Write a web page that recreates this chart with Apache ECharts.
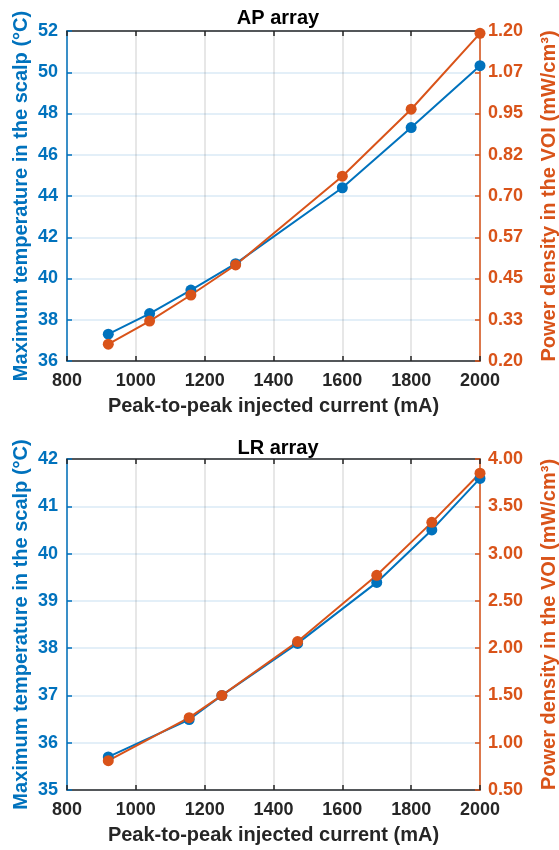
<!DOCTYPE html>
<html>
<head>
<meta charset="utf-8">
<script src="https://cdn.jsdelivr.net/npm/echarts@6/dist/echarts.min.js"></script>
<style>
  html, body { margin: 0; padding: 0; background: #fff; }
  #chart { width: 559px; height: 850px; }
</style>
</head>
<body>
<div id="chart"></div>
<script>
// AP array
var apCurrent = [920, 1040, 1160, 1290, 1600, 1800, 2000]
var apTemp = [37.3, 38.3, 39.44, 40.72, 44.4, 47.32, 50.32]
var apPower = [0.251, 0.321, 0.40, 0.491, 0.76, 0.963, 1.193]
var apPowerTicks = [0.2, 0.325, 0.45, 0.575, 0.7, 0.825, 0.95, 1.075, 1.2]
var apPowerLabels = ['0.20', '0.33', '0.45', '0.57', '0.70', '0.82', '0.95', '1.07', '1.20']

// LR array
var lrCurrent = [920, 1155, 1250, 1470, 1700, 1860, 2000]
var lrTemp = [35.7, 36.49, 37.0, 38.1, 39.39, 40.5, 41.59]
var lrPower = [0.81, 1.265, 1.5, 2.07, 2.77, 3.33, 3.85]

var BLUE = '#0072BD'
var ORANGE = '#D95319'
var DARK = '#262626'
var FONT = 'Liberation Sans'

var chart = echarts.init(document.getElementById('chart'))

function xAxisFor(gridIndex, top) {
  return {
    type: 'value',
    gridIndex: gridIndex,
    position: top ? 'top' : 'bottom',
    min: 800,
    max: 2000,
    interval: 200,
    name: top ? '' : 'Peak-to-peak injected current (mA)',
    nameLocation: 'middle',
    nameGap: 35,
    nameMoveOverlap: false,
    nameTextStyle: { color: DARK, fontFamily: FONT, fontWeight: 'bold', fontSize: 20 },
    axisLine: { show: true, lineStyle: { color: DARK, width: 1.5 } },
    axisTick: { show: true, inside: true, length: 5, lineStyle: { color: DARK, width: 1.5 } },
    axisLabel: {
      show: !top, margin: 11, color: DARK, fontFamily: FONT, fontWeight: 'bold', fontSize: 18,
      formatter: function (v) { return String(v) }
    },
    splitLine: { show: !top, lineStyle: { color: 'rgba(38,38,38,0.15)', width: 1.5 } }
  }
}

function leftAxis(gridIndex, min, max, interval) {
  return {
    type: 'value',
    gridIndex: gridIndex,
    position: 'left',
    min: min,
    max: max,
    interval: interval,
    name: 'Maximum temperature in the scalp (°C)',
    nameLocation: 'middle',
    nameGap: 36,
    nameMoveOverlap: false,
    nameTextStyle: { color: BLUE, fontFamily: FONT, fontWeight: 'bold', fontSize: 20 },
    axisLine: { show: true, lineStyle: { color: BLUE, width: 1.5 } },
    axisTick: { show: true, inside: true, length: 5, lineStyle: { color: BLUE, width: 1.5 } },
    axisLabel: { margin: 9, color: BLUE, fontFamily: FONT, fontWeight: 'bold', fontSize: 18 },
    splitLine: { show: true, lineStyle: { color: 'rgba(0,114,189,0.15)', width: 1.5 } }
  }
}

function rightAxis(gridIndex, min, max, extra) {
  var ax = {
    type: 'value',
    gridIndex: gridIndex,
    position: 'right',
    min: min,
    max: max,
    name: 'Power density in the VOI (mW/cm³)',
    nameLocation: 'middle',
    nameGap: 59,
    nameMoveOverlap: false,
    nameTextStyle: { color: ORANGE, fontFamily: FONT, fontWeight: 'bold', fontSize: 20 },
    axisLine: { show: true, lineStyle: { color: ORANGE, width: 1.5 } },
    axisTick: { show: true, inside: true, length: 5, lineStyle: { color: ORANGE, width: 1.5 } },
    splitLine: { show: false }
  }
  return Object.assign(ax, extra || {})
}

function pairs(xs, ys) {
  return xs.map(function (x, i) { return [x, ys[i]] })
}

function lineSeries(xi, yi, color, data) {
  return {
    type: 'line',
    xAxisIndex: xi,
    yAxisIndex: yi,
    data: data,
    symbol: 'circle',
    symbolSize: 11,
    lineStyle: { color: color, width: 2 },
    itemStyle: { color: color },
    animation: false
  }
}

chart.setOption({
  backgroundColor: '#fff',
  title: [
    { text: 'AP array', left: 273, top: 3, textAlign: 'center',
      textStyle: { color: '#000', fontFamily: FONT, fontWeight: 'bold', fontSize: 20 } },
    { text: 'LR array', left: 273, top: 433, textAlign: 'center',
      textStyle: { color: '#000', fontFamily: FONT, fontWeight: 'bold', fontSize: 20 } }
  ],
  grid: [
    { left: 67, top: 31, width: 413, height: 330, containLabel: false, outerBoundsMode: 'none' },
    { left: 67, top: 459, width: 413, height: 331, containLabel: false, outerBoundsMode: 'none' }
  ],
  xAxis: [xAxisFor(0, false), xAxisFor(0, true), xAxisFor(1, false), xAxisFor(1, true)],
  yAxis: [
    leftAxis(0, 36, 52, 2),
    rightAxis(0, 0.2, 1.2, {
      axisLabel: {
        margin: 8, color: ORANGE, fontFamily: FONT, fontWeight: 'bold', fontSize: 18,
        customValues: apPowerTicks,
        formatter: function (v) {
          var best = 0
          apPowerTicks.forEach(function (t, i) {
            if (Math.abs(t - v) < Math.abs(apPowerTicks[best] - v)) best = i
          })
          return apPowerLabels[best]
        }
      },
      axisTick: { show: true, inside: true, length: 5, customValues: apPowerTicks, lineStyle: { color: ORANGE, width: 1.5 } }
    }),
    leftAxis(1, 35, 42, 1),
    rightAxis(1, 0.5, 4.0, {
      interval: 0.5,
      axisLabel: {
        margin: 8, color: ORANGE, fontFamily: FONT, fontWeight: 'bold', fontSize: 18,
        formatter: function (v) { return v.toFixed(2) }
      }
    })
  ],
  series: [
    lineSeries(0, 0, BLUE, pairs(apCurrent, apTemp)),
    lineSeries(0, 1, ORANGE, pairs(apCurrent, apPower)),
    lineSeries(2, 2, BLUE, pairs(lrCurrent, lrTemp)),
    lineSeries(2, 3, ORANGE, pairs(lrCurrent, lrPower))
  ]
})
</script>
</body>
</html>
